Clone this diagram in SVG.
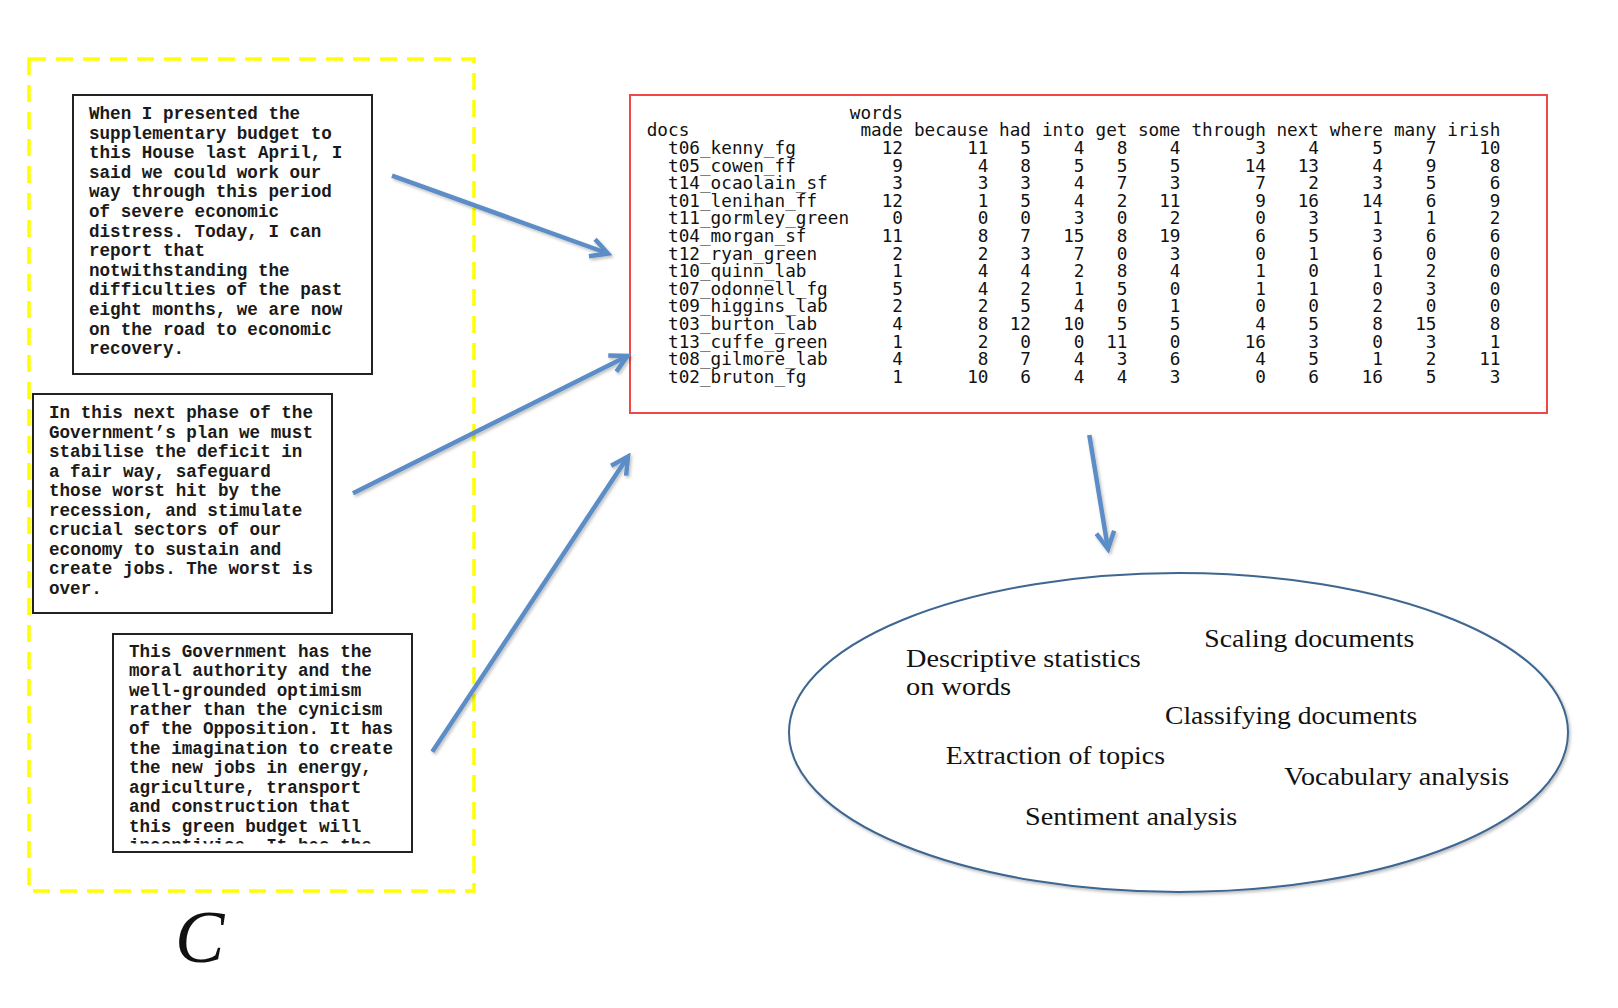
<svg xmlns="http://www.w3.org/2000/svg" width="1618" height="1008" viewBox="0 0 1618 1008">
<style>
.doc{font-family:"Liberation Mono","Courier New",monospace;font-size:17.6px;font-weight:bold;fill:#1a1a1a;}
.tbl{font-family:"DejaVu Sans Mono","Liberation Mono",monospace;font-size:17.7px;fill:#111;}
.num{text-anchor:end;}
.box{fill:#fff;stroke:#222;stroke-width:2;}
.lbl{font-family:"Liberation Serif","Times New Roman",serif;font-size:26px;fill:#111;}
.arr{fill:none;stroke:#5b8dc6;stroke-width:4.5;stroke-linecap:butt;}
</style>
<defs>
<marker id="ah" markerUnits="userSpaceOnUse" viewBox="-22 -13 26 26" refX="0" refY="0" markerWidth="26" markerHeight="26" orient="auto">
<path d="M-17,-9 L0,0 L-17,9" fill="none" stroke="#5b8dc6" stroke-width="4.5" stroke-linejoin="miter"/>
</marker>
<filter id="sh" x="-10%" y="-10%" width="120%" height="120%">
<feDropShadow dx="1.5" dy="2" stdDeviation="1.5" flood-color="#000" flood-opacity="0.25"/>
</filter>
<clipPath id="c3"><rect x="113" y="634" width="298" height="209.5"/></clipPath>
</defs>

<g id="corpus">
<rect x="29" y="59" width="445" height="832" fill="none" stroke="#ffff00" stroke-width="3.5" stroke-dasharray="17 10"/>
</g>

<g id="doc1">
<rect class="box" x="73" y="95" width="299" height="279"/>
<text class="doc" x="89" y="119">
<tspan x="89" dy="0">When I presented the</tspan>
<tspan x="89" dy="19.6">supplementary budget to</tspan>
<tspan x="89" dy="19.6">this House last April, I</tspan>
<tspan x="89" dy="19.6">said we could work our</tspan>
<tspan x="89" dy="19.6">way through this period</tspan>
<tspan x="89" dy="19.6">of severe economic</tspan>
<tspan x="89" dy="19.6">distress. Today, I can</tspan>
<tspan x="89" dy="19.6">report that</tspan>
<tspan x="89" dy="19.6">notwithstanding the</tspan>
<tspan x="89" dy="19.6">difficulties of the past</tspan>
<tspan x="89" dy="19.6">eight months, we are now</tspan>
<tspan x="89" dy="19.6">on the road to economic</tspan>
<tspan x="89" dy="19.6">recovery.</tspan>
</text>
</g>

<g id="doc2">
<rect class="box" x="33" y="394" width="299" height="219"/>
<text class="doc" x="49" y="418">
<tspan x="49" dy="0">In this next phase of the</tspan>
<tspan x="49" dy="19.5">Government’s plan we must</tspan>
<tspan x="49" dy="19.5">stabilise the deficit in</tspan>
<tspan x="49" dy="19.5">a fair way, safeguard</tspan>
<tspan x="49" dy="19.5">those worst hit by the</tspan>
<tspan x="49" dy="19.5">recession, and stimulate</tspan>
<tspan x="49" dy="19.5">crucial sectors of our</tspan>
<tspan x="49" dy="19.5">economy to sustain and</tspan>
<tspan x="49" dy="19.5">create jobs. The worst is</tspan>
<tspan x="49" dy="19.5">over.</tspan>
</text>
</g>

<g id="doc3">
<rect class="box" x="113" y="634" width="299" height="218"/>
<text class="doc" x="129" y="656.7" clip-path="url(#c3)">
<tspan x="129" dy="0">This Government has the</tspan>
<tspan x="129" dy="19.44">moral authority and the</tspan>
<tspan x="129" dy="19.44">well-grounded optimism</tspan>
<tspan x="129" dy="19.44">rather than the cynicism</tspan>
<tspan x="129" dy="19.44">of the Opposition. It has</tspan>
<tspan x="129" dy="19.44">the imagination to create</tspan>
<tspan x="129" dy="19.44">the new jobs in energy,</tspan>
<tspan x="129" dy="19.44">agriculture, transport</tspan>
<tspan x="129" dy="19.44">and construction that</tspan>
<tspan x="129" dy="19.44">this green budget will</tspan>
<tspan x="129" dy="19.44">incentivise. It has the</tspan>
</text>
</g>

<g id="corpus-label">
<text x="175" y="962" font-family="'Liberation Serif','Times New Roman',serif" font-style="italic" font-size="74" fill="#111">C</text>
</g>

<g id="dfm">
<rect x="630" y="95" width="917" height="318" fill="#fff" stroke="#f04848" stroke-width="2"/>
<text class="tbl num" y="118.7"><tspan x="903">words</tspan></text>
<text class="tbl" x="646.7" y="136.3">docs</text>
<text class="tbl num" y="136.3"><tspan x="903">made</tspan><tspan x="988.5">because</tspan><tspan x="1031">had</tspan><tspan x="1084.5">into</tspan><tspan x="1127.5">get</tspan><tspan x="1180.5">some</tspan><tspan x="1266">through</tspan><tspan x="1319">next</tspan><tspan x="1383">where</tspan><tspan x="1436.5">many</tspan><tspan x="1500.5">irish</tspan></text>
<g class="tbl">
<text x="668" y="154">t06_kenny_fg</text>
<text x="668" y="171.6">t05_cowen_ff</text>
<text x="668" y="189.2">t14_ocaolain_sf</text>
<text x="668" y="206.8">t01_lenihan_ff</text>
<text x="668" y="224.4">t11_gormley_green</text>
<text x="668" y="242">t04_morgan_sf</text>
<text x="668" y="259.6">t12_ryan_green</text>
<text x="668" y="277.2">t10_quinn_lab</text>
<text x="668" y="294.8">t07_odonnell_fg</text>
<text x="668" y="312.4">t09_higgins_lab</text>
<text x="668" y="330">t03_burton_lab</text>
<text x="668" y="347.6">t13_cuffe_green</text>
<text x="668" y="365.2">t08_gilmore_lab</text>
<text x="668" y="382.8">t02_bruton_fg</text>
</g>
<g class="tbl num">
<text y="154"><tspan x="903">12</tspan><tspan x="988.5">11</tspan><tspan x="1031">5</tspan><tspan x="1084.5">4</tspan><tspan x="1127.5">8</tspan><tspan x="1180.5">4</tspan><tspan x="1266">3</tspan><tspan x="1319">4</tspan><tspan x="1383">5</tspan><tspan x="1436.5">7</tspan><tspan x="1500.5">10</tspan></text>
<text y="171.6"><tspan x="903">9</tspan><tspan x="988.5">4</tspan><tspan x="1031">8</tspan><tspan x="1084.5">5</tspan><tspan x="1127.5">5</tspan><tspan x="1180.5">5</tspan><tspan x="1266">14</tspan><tspan x="1319">13</tspan><tspan x="1383">4</tspan><tspan x="1436.5">9</tspan><tspan x="1500.5">8</tspan></text>
<text y="189.2"><tspan x="903">3</tspan><tspan x="988.5">3</tspan><tspan x="1031">3</tspan><tspan x="1084.5">4</tspan><tspan x="1127.5">7</tspan><tspan x="1180.5">3</tspan><tspan x="1266">7</tspan><tspan x="1319">2</tspan><tspan x="1383">3</tspan><tspan x="1436.5">5</tspan><tspan x="1500.5">6</tspan></text>
<text y="206.8"><tspan x="903">12</tspan><tspan x="988.5">1</tspan><tspan x="1031">5</tspan><tspan x="1084.5">4</tspan><tspan x="1127.5">2</tspan><tspan x="1180.5">11</tspan><tspan x="1266">9</tspan><tspan x="1319">16</tspan><tspan x="1383">14</tspan><tspan x="1436.5">6</tspan><tspan x="1500.5">9</tspan></text>
<text y="224.4"><tspan x="903">0</tspan><tspan x="988.5">0</tspan><tspan x="1031">0</tspan><tspan x="1084.5">3</tspan><tspan x="1127.5">0</tspan><tspan x="1180.5">2</tspan><tspan x="1266">0</tspan><tspan x="1319">3</tspan><tspan x="1383">1</tspan><tspan x="1436.5">1</tspan><tspan x="1500.5">2</tspan></text>
<text y="242"><tspan x="903">11</tspan><tspan x="988.5">8</tspan><tspan x="1031">7</tspan><tspan x="1084.5">15</tspan><tspan x="1127.5">8</tspan><tspan x="1180.5">19</tspan><tspan x="1266">6</tspan><tspan x="1319">5</tspan><tspan x="1383">3</tspan><tspan x="1436.5">6</tspan><tspan x="1500.5">6</tspan></text>
<text y="259.6"><tspan x="903">2</tspan><tspan x="988.5">2</tspan><tspan x="1031">3</tspan><tspan x="1084.5">7</tspan><tspan x="1127.5">0</tspan><tspan x="1180.5">3</tspan><tspan x="1266">0</tspan><tspan x="1319">1</tspan><tspan x="1383">6</tspan><tspan x="1436.5">0</tspan><tspan x="1500.5">0</tspan></text>
<text y="277.2"><tspan x="903">1</tspan><tspan x="988.5">4</tspan><tspan x="1031">4</tspan><tspan x="1084.5">2</tspan><tspan x="1127.5">8</tspan><tspan x="1180.5">4</tspan><tspan x="1266">1</tspan><tspan x="1319">0</tspan><tspan x="1383">1</tspan><tspan x="1436.5">2</tspan><tspan x="1500.5">0</tspan></text>
<text y="294.8"><tspan x="903">5</tspan><tspan x="988.5">4</tspan><tspan x="1031">2</tspan><tspan x="1084.5">1</tspan><tspan x="1127.5">5</tspan><tspan x="1180.5">0</tspan><tspan x="1266">1</tspan><tspan x="1319">1</tspan><tspan x="1383">0</tspan><tspan x="1436.5">3</tspan><tspan x="1500.5">0</tspan></text>
<text y="312.4"><tspan x="903">2</tspan><tspan x="988.5">2</tspan><tspan x="1031">5</tspan><tspan x="1084.5">4</tspan><tspan x="1127.5">0</tspan><tspan x="1180.5">1</tspan><tspan x="1266">0</tspan><tspan x="1319">0</tspan><tspan x="1383">2</tspan><tspan x="1436.5">0</tspan><tspan x="1500.5">0</tspan></text>
<text y="330"><tspan x="903">4</tspan><tspan x="988.5">8</tspan><tspan x="1031">12</tspan><tspan x="1084.5">10</tspan><tspan x="1127.5">5</tspan><tspan x="1180.5">5</tspan><tspan x="1266">4</tspan><tspan x="1319">5</tspan><tspan x="1383">8</tspan><tspan x="1436.5">15</tspan><tspan x="1500.5">8</tspan></text>
<text y="347.6"><tspan x="903">1</tspan><tspan x="988.5">2</tspan><tspan x="1031">0</tspan><tspan x="1084.5">0</tspan><tspan x="1127.5">11</tspan><tspan x="1180.5">0</tspan><tspan x="1266">16</tspan><tspan x="1319">3</tspan><tspan x="1383">0</tspan><tspan x="1436.5">3</tspan><tspan x="1500.5">1</tspan></text>
<text y="365.2"><tspan x="903">4</tspan><tspan x="988.5">8</tspan><tspan x="1031">7</tspan><tspan x="1084.5">4</tspan><tspan x="1127.5">3</tspan><tspan x="1180.5">6</tspan><tspan x="1266">4</tspan><tspan x="1319">5</tspan><tspan x="1383">1</tspan><tspan x="1436.5">2</tspan><tspan x="1500.5">11</tspan></text>
<text y="382.8"><tspan x="903">1</tspan><tspan x="988.5">10</tspan><tspan x="1031">6</tspan><tspan x="1084.5">4</tspan><tspan x="1127.5">4</tspan><tspan x="1180.5">3</tspan><tspan x="1266">0</tspan><tspan x="1319">6</tspan><tspan x="1383">16</tspan><tspan x="1436.5">5</tspan><tspan x="1500.5">3</tspan></text>
</g>
</g>

<g id="analyses">
<ellipse cx="1178.5" cy="732.5" rx="389.5" ry="159.5" fill="#fff" stroke="#3e6690" stroke-width="2" filter="url(#sh)"/>
<text class="lbl" x="906" y="666.7" textLength="234.7" lengthAdjust="spacingAndGlyphs">Descriptive statistics</text>
<text class="lbl" x="906" y="695" textLength="105" lengthAdjust="spacingAndGlyphs">on words</text>
<text class="lbl" x="1204.3" y="646.7" textLength="210" lengthAdjust="spacingAndGlyphs">Scaling documents</text>
<text class="lbl" x="1165" y="724.3" textLength="252.3" lengthAdjust="spacingAndGlyphs">Classifying documents</text>
<text class="lbl" x="945.7" y="764" textLength="219.3" lengthAdjust="spacingAndGlyphs">Extraction of topics</text>
<text class="lbl" x="1284.3" y="785" textLength="225" lengthAdjust="spacingAndGlyphs">Vocabulary analysis</text>
<text class="lbl" x="1025" y="825" textLength="212.3" lengthAdjust="spacingAndGlyphs">Sentiment analysis</text>
</g>

<g id="connectors" filter="url(#sh)">
<line class="arr" x1="392" y1="175.7" x2="608" y2="253.5" marker-end="url(#ah)"/>
<line class="arr" x1="353" y1="493.3" x2="627.5" y2="356" marker-end="url(#ah)"/>
<line class="arr" x1="432.3" y1="751.7" x2="628" y2="456.5" marker-end="url(#ah)"/>
<line class="arr" x1="1089.3" y1="435" x2="1108" y2="549" marker-end="url(#ah)"/>
</g>
</svg>
